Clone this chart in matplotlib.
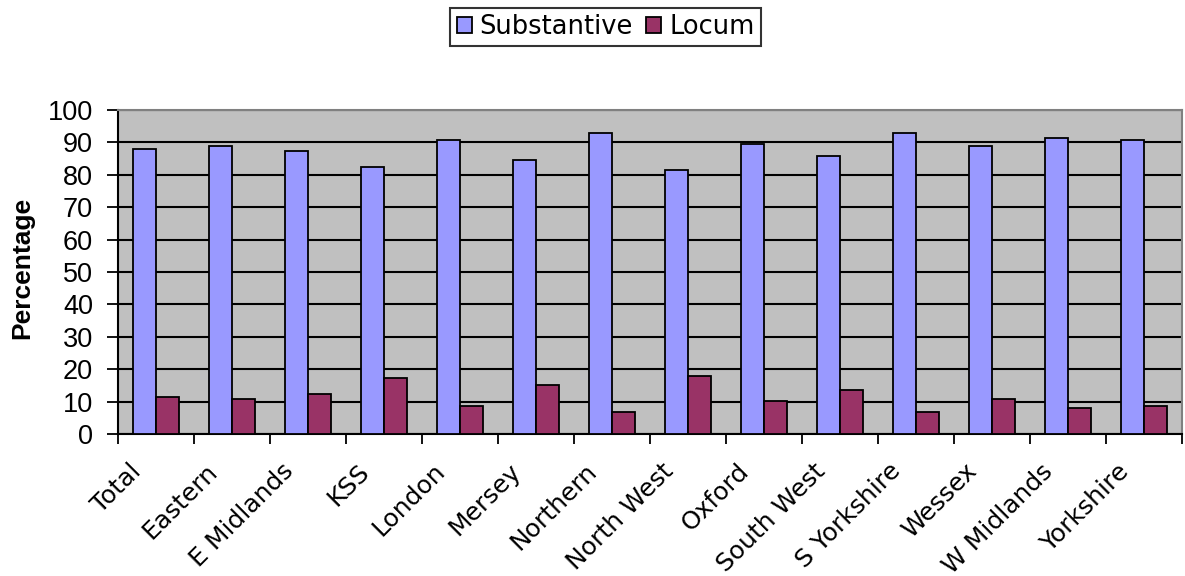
import matplotlib.pyplot as plt
import matplotlib.transforms as mtransforms
import numpy as np

regions = ['Total', 'Eastern', 'E Midlands', 'KSS', 'London', 'Mersey', 'Northern',
           'North West', 'Oxford', 'South West', 'S Yorkshire', 'Wessex',
           'W Midlands', 'Yorkshire']
substantive = [87.9, 88.8, 87.3, 82.4, 90.7, 84.5, 92.9,
               81.6, 89.6, 85.9, 93.0, 88.8, 91.5, 90.7]
locum = [11.5, 10.7, 12.3, 17.2, 8.8, 15.1, 6.7,
         17.8, 10.1, 13.7, 6.7, 10.8, 8.1, 8.8]

fig = plt.figure(figsize=(11.85, 5.76), dpi=100)
ax = fig.add_axes([0.0995, 0.2465, 0.898, 0.5625])
ax.set_facecolor('#C0C0C0')

x = np.arange(len(regions))
w = 0.30
b1 = ax.bar(x - w / 2, substantive, w, color='#9999FF', edgecolor='black',
            linewidth=1.3, label='Substantive', zorder=3)
b2 = ax.bar(x + w / 2, locum, w, color='#993366', edgecolor='black',
            linewidth=1.3, label='Locum', zorder=3)

ax.set_ylim(0, 100)
ax.set_xlim(-0.5, len(regions) - 0.5)
ax.set_yticks(np.arange(0, 101, 10))
ax.yaxis.grid(True, color='black', linewidth=1.5, zorder=1)
ax.set_axisbelow(True)

# y tick labels in an Arial-like face
for lbl in ax.get_yticklabels():
    lbl.set_family('Liberation Sans')
    lbl.set_fontsize(19.5)
ax.tick_params(axis='y', direction='out', length=8, width=1.3, pad=10)

# x: labels at centres (top-right corner a bit left of centre), ticks at boundaries
ax.set_xticks(x)
ax.set_xticklabels(regions, rotation=45, ha='right', va='top',
                   rotation_mode='anchor', fontsize=18, family='DejaVu Sans')
ax.tick_params(axis='x', which='major', length=0, pad=18)
shift = mtransforms.ScaledTranslation(-27 / 100, 0, fig.dpi_scale_trans)
for lbl in ax.get_xticklabels():
    lbl.set_transform(lbl.get_transform() + shift)
ax.set_xticks(np.arange(-0.5, len(regions), 1), minor=True)
ax.tick_params(axis='x', which='minor', direction='out', length=7, width=1.3)

for s in ['left', 'bottom']:
    ax.spines[s].set_color('black')
    ax.spines[s].set_linewidth(1.5)
for s in ['top', 'right']:
    ax.spines[s].set_color('#808080')
    ax.spines[s].set_linewidth(1.5)

fig.text(0.019, 0.535, 'Percentage', rotation=90, ha='center', va='center',
         fontsize=19, fontweight='bold', family='Liberation Sans')

leg = fig.legend(handles=[b1, b2], loc='center', bbox_to_anchor=(0.511, 0.953),
                 ncol=2, fontsize=18.5, frameon=True, fancybox=False,
                 handlelength=0.6, handleheight=0.6, handletextpad=0.3,
                 columnspacing=0.5, borderpad=0.25, borderaxespad=0)
leg.get_frame().set_edgecolor('black')
leg.get_frame().set_linewidth(1.5)

plt.savefig('out.png', dpi=100)
